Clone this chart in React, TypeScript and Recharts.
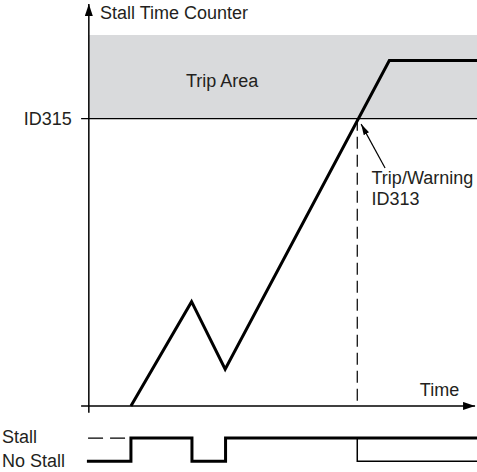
import * as React from "react"
import {
  ComposedChart,
  Line,
  ReferenceArea,
  ReferenceDot,
  ReferenceLine,
  XAxis,
  YAxis,
} from "recharts"

// stall time counter (x = time, y = counter, ID315 limit = 100)
const counterTime = [10.9, 26.6, 35.3, 77.8, 100.5]
const counterValue = [0, 36.3, 12.8, 120.2, 120.2]

// stall signal, plotted below the time axis
const stallLevel = -11.2
const noStallLevel = -19.3
const signalTime = [-0.5, 10.9, 26.7, 35.4, 100.5]
const signalState = [noStallLevel, stallLevel, noStallLevel, stallLevel, stallLevel]
const tripTime = 69.5
const tripLimit = 100
const tripAreaTop = 129.1

type Label = { text: string; x: number; y: number; anchor: "start" | "middle" | "end" }
const labels: Label[] = [
  { text: "Stall Time Counter", x: 2.9, y: 134.7, anchor: "start" },
  { text: "Trip Area", x: 34.5, y: 111, anchor: "middle" },
  { text: "ID315", x: -4.4, y: 97.8, anchor: "end" },
  { text: "Time", x: 85.7, y: 3.5, anchor: "start" },
  { text: "Trip/Warning", x: 73.2, y: 77.3, anchor: "start" },
  { text: "ID313", x: 73.2, y: 69.9, anchor: "start" },
  { text: "Stall", x: -22.5, y: -12.9, anchor: "start" },
  { text: "No Stall", x: -22.5, y: -21.3, anchor: "start" },
]

const counterData = counterTime.map((t, i) => ({ t, v: counterValue[i] }))
const signalData = signalTime.map((t, i) => ({ t, v: signalState[i] }))
const afterTrip = [
  { t: tripTime, v: stallLevel },
  { t: tripTime, v: noStallLevel },
  { t: 100.5, v: noStallLevel },
]

const font = "'Liberation Sans', Arial, sans-serif"
const ink = "#231f20"

export default function App() {
  return (
    <div style={{ position: "absolute", left: 0, top: 0, width: 477, height: 472, background: "#fff" }}>
      <ComposedChart width={477} height={472} margin={{ top: 0, right: 0, bottom: 0, left: 0 }}>
        <defs>
          <marker id="axisHead" markerUnits="userSpaceOnUse" markerWidth={13} markerHeight={8} refX={12} refY={4} orient="auto">
            <path d="M0,0 L12,4 L0,8 z" fill="#000" />
          </marker>
          <marker id="noteHead" markerUnits="userSpaceOnUse" markerWidth={12} markerHeight={6} refX={11} refY={3} orient="auto">
            <path d="M0,0 L11,3 L0,6 z" fill="#000" />
          </marker>
        </defs>
        <XAxis type="number" dataKey="t" domain={[-23, 100.5]} hide allowDataOverflow />
        <YAxis type="number" dataKey="v" domain={[-23, 141.3]} hide allowDataOverflow />

        <ReferenceArea x1={0} x2={100.5} y1={tripLimit} y2={tripAreaTop} fill="#d9dadc" fillOpacity={1} stroke="none" />
        <ReferenceLine segment={[{ x: -2, y: tripLimit }, { x: 100.5, y: tripLimit }]} stroke="#000" strokeWidth={1.2} />
        <ReferenceLine segment={[{ x: tripTime, y: tripLimit }, { x: tripTime, y: 0 }]} stroke="#000" strokeWidth={1.2} strokeDasharray="12 6" />

        {/* axes */}
        <ReferenceLine segment={[{ x: 0, y: -2.4 }, { x: 0, y: 139.9 }]} stroke="#000" strokeWidth={1.5} markerEnd="url(#axisHead)" />
        <ReferenceLine segment={[{ x: -2, y: 0 }, { x: 100, y: 0 }]} stroke="#000" strokeWidth={1.5} markerEnd="url(#axisHead)" />
        <ReferenceLine segment={[{ x: 76.7, y: 82.8 }, { x: 70.5, y: 98.1 }]} stroke="#000" strokeWidth={1.2} markerEnd="url(#noteHead)" />

        <Line data={counterData} dataKey="v" type="linear" stroke="#000" strokeWidth={3} strokeLinejoin="miter" dot={false} activeDot={false} isAnimationActive={false} />
        <ReferenceLine segment={[{ x: -0.2, y: stallLevel }, { x: 9.6, y: stallLevel }]} stroke="#000" strokeWidth={1.2} strokeDasharray="15 7" />
        <Line data={signalData} dataKey="v" type="stepAfter" stroke="#000" strokeWidth={3} strokeLinejoin="miter" dot={false} activeDot={false} isAnimationActive={false} />
        <Line data={afterTrip} dataKey="v" type="linear" stroke="#000" strokeWidth={1.5} dot={false} activeDot={false} isAnimationActive={false} />

        {labels.map((l) => (
          <ReferenceDot
            key={l.text}
            x={l.x}
            y={l.y}
            r={0}
            fill="none"
            stroke="none"
            label={(p: any) => (
              <text x={p.viewBox.x} y={p.viewBox.y} textAnchor={l.anchor} fontFamily={font} fontSize={18} fill={ink}>
                {l.text}
              </text>
            )}
          />
        ))}
      </ComposedChart>
    </div>
  )
}
